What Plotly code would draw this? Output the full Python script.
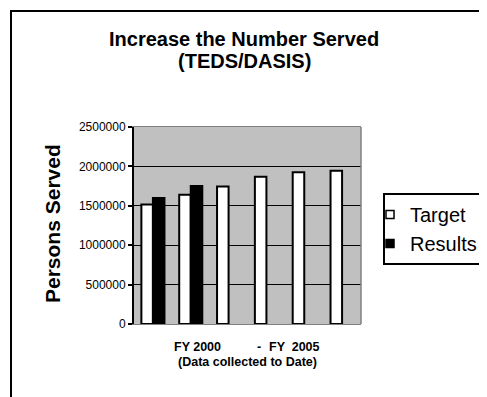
import plotly.graph_objects as go

categories = ["FY 2000", "FY 2001", "FY 2002", "FY 2003", "FY 2004", "FY 2005"]
target = [1515000, 1640000, 1745000, 1870000, 1925000, 1945000]
results = [1600000, 1750000, None, None, None, None]
series_names = ["Target", "Results"]
title_lines = ["Increase the Number Served", "(TEDS/DASIS)"]
y_title = "Persons Served"
x_label_parts = ["FY 2000", "-", "FY  2005"]
x_subtitle = "(Data collected to Date)"

FONT = "Liberation Sans, Arial, sans-serif"
OFF = 8  # default page body margin
W, H = 487 - OFF, 397 - OFF
# plot area in page pixels: x 134..361, y 127..324
L, T = 134 - OFF, 127 - OFF
R, B = W - (361 - OFF), H - (324 - OFF)
PW, PH = W - L - R, H - T - B

def px(x):
    return (x - OFF - L) / PW

def py(y):
    return (H - B - (y - OFF)) / PH

fig = go.Figure()
fig.add_trace(go.Bar(x=categories, y=target, name=series_names[0], showlegend=False,
                     marker=dict(color="white", line=dict(color="black", width=2))))
fig.add_trace(go.Bar(x=categories, y=results, name=series_names[1], showlegend=False,
                     marker=dict(color="black", line=dict(color="black", width=2))))
# legend entries (small square swatches like the original)
fig.add_trace(go.Scatter(x=[None], y=[None], mode="markers", name=series_names[0],
                         marker=dict(symbol="square", size=8, color="white",
                                     line=dict(color="black", width=1.5))))
fig.add_trace(go.Scatter(x=[None], y=[None], mode="markers", name=series_names[1],
                         marker=dict(symbol="square", size=8, color="black",
                                     line=dict(color="black", width=1.5))))

fig.update_layout(
    width=W, height=H,
    margin=dict(l=L, r=R, t=T, b=B, autoexpand=False),
    paper_bgcolor="white", plot_bgcolor="#C0C0C0",
    barmode="group", bargap=0.39, bargroupgap=0,
    font=dict(family=FONT, color="black"),
    showlegend=True,
    legend=dict(x=px(383), y=py(193), xanchor="left", yanchor="top",
                bordercolor="black", borderwidth=2, bgcolor="white",
                font=dict(size=20, family=FONT), tracegroupgap=0,
                indentation=-15),
)
fig.update_xaxes(showticklabels=False, ticks="", showgrid=False,
                 showline=True, linecolor="#808080", linewidth=1, mirror=True)
fig.update_yaxes(range=[0, 2500000], dtick=500000, tickformat="d",
                 showgrid=True, gridcolor="black", gridwidth=1,
                 ticks="outside", ticklen=4, tickwidth=2, tickcolor="black",
                 showline=True, linecolor="black", linewidth=2,
                 tickfont=dict(size=12, family=FONT), zeroline=False)

shapes = [
    dict(type="line", xref="paper", yref="paper", x0=1, x1=1, y0=0, y1=1,
         line=dict(color="#808080", width=1.5)),
    dict(type="rect", xref="paper", yref="paper", x0=px(11), x1=px(500),
         y0=py(11), y1=py(410), line=dict(color="black", width=2)),
]
fig.update_layout(shapes=shapes)

ann = []
ann.append(dict(text="<b>%s</b>" % title_lines[0], x=px(244), y=py(39)))
ann.append(dict(text="<b>%s</b>" % title_lines[1], x=px(244), y=py(61.5)))
for a in ann:
    a.update(xref="paper", yref="paper", showarrow=False, xanchor="center",
             yanchor="middle", font=dict(size=20, family=FONT))
ann.append(dict(text="<b>%s</b>" % y_title, x=px(52), y=py(224), textangle=-90,
                xref="paper", yref="paper", showarrow=False, xanchor="center",
                yanchor="middle", font=dict(size=21, family=FONT)))
for t, xc in zip(x_label_parts, [197.3, 259, 294.7]):
    ann.append(dict(text="<b>%s</b>" % t, x=px(xc), y=py(346.7), xref="paper",
                    yref="paper", showarrow=False, xanchor="center",
                    yanchor="middle", font=dict(size=12.5, family=FONT)))
ann.append(dict(text="<b>%s</b>" % x_subtitle, x=px(247.2), y=py(361.7),
                xref="paper", yref="paper", showarrow=False, xanchor="center",
                yanchor="middle", font=dict(size=12.5, family=FONT)))
fig.update_layout(annotations=ann)

fig.write_html("out.html")
